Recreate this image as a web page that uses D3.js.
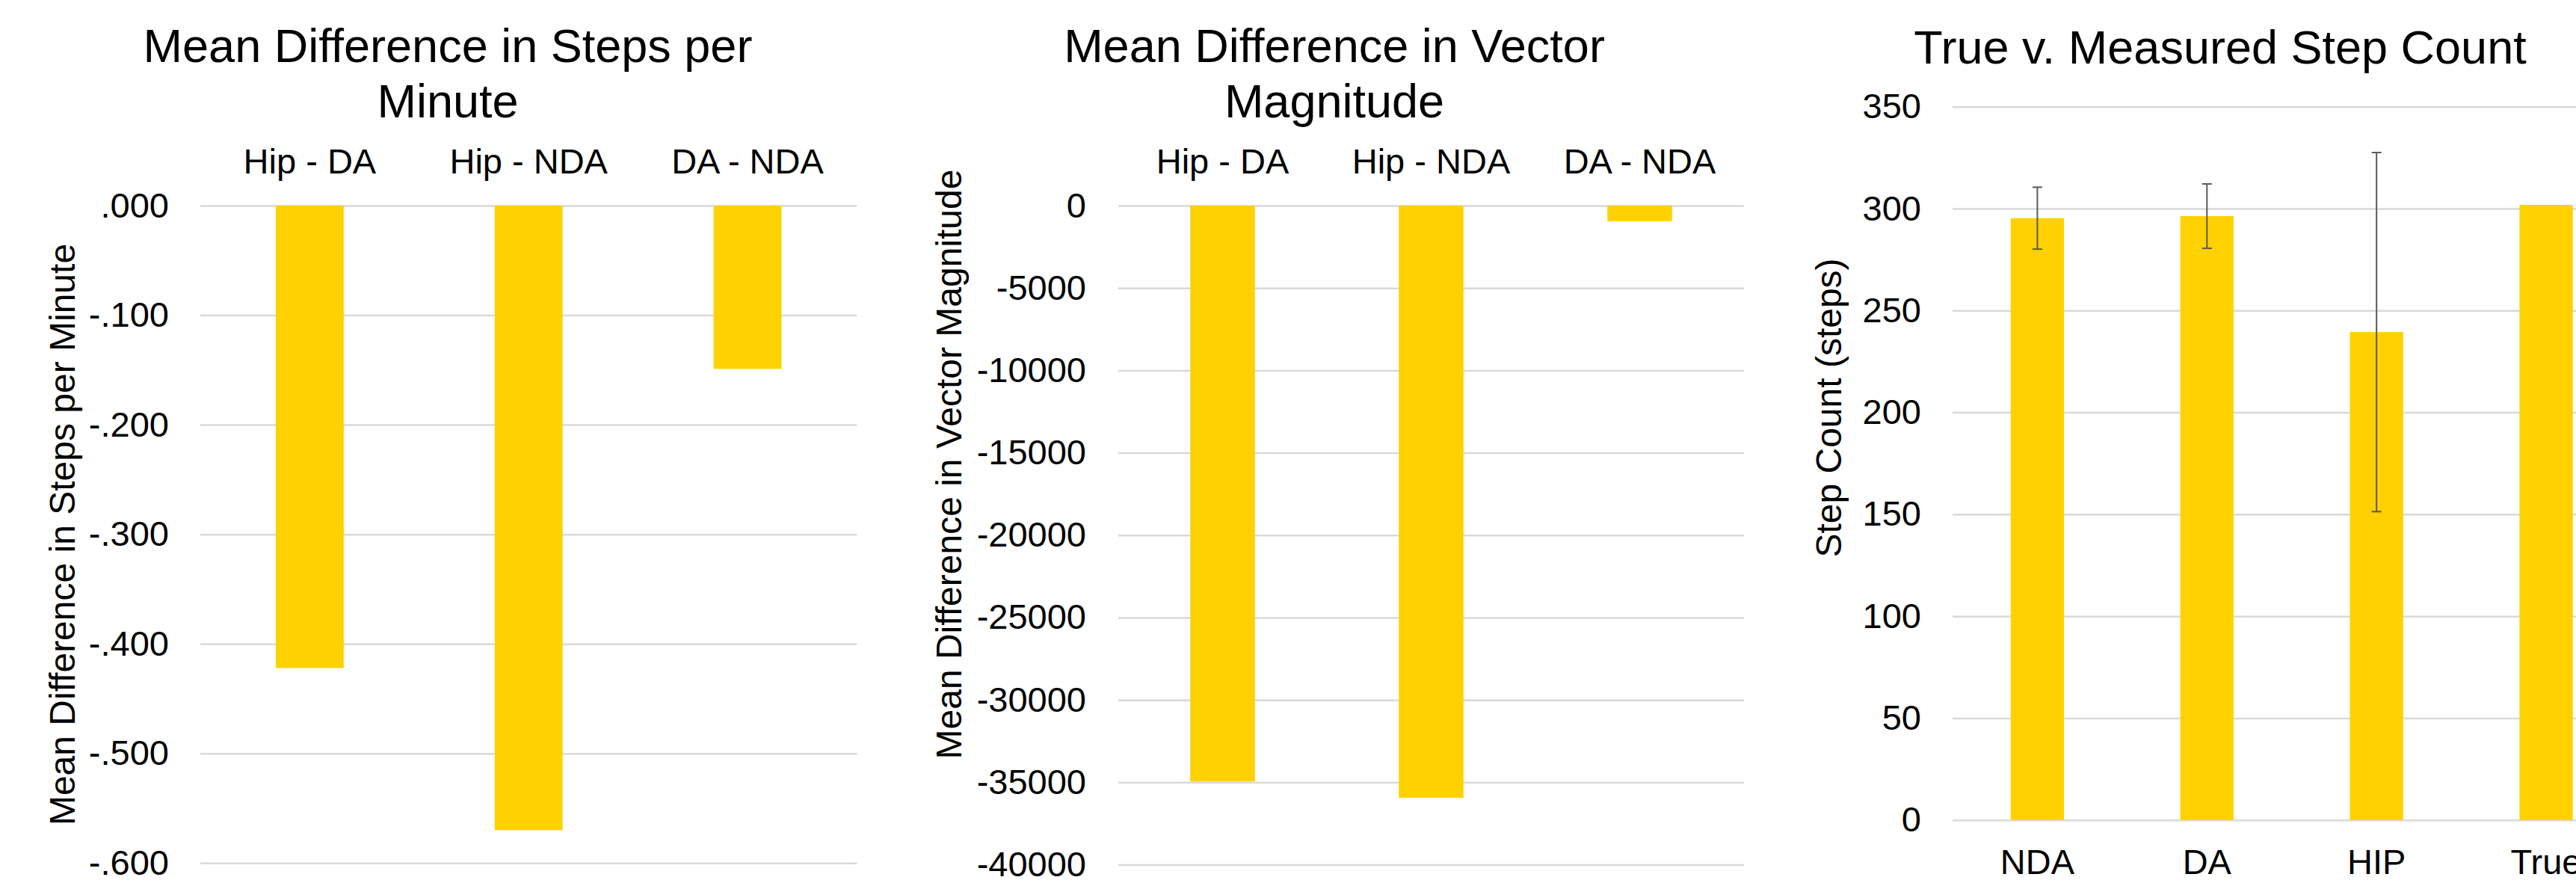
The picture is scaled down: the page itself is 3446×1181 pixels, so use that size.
<!DOCTYPE html>
<html>
<head>
<meta charset="utf-8">
<script src="https://cdn.jsdelivr.net/npm/d3@7/dist/d3.min.js"></script>
<style>
  html, body { margin: 0; padding: 0; background: #ffffff; }
  svg { display: block; font-family: "Liberation Sans", Arial, sans-serif; }
</style>
</head>
<body>
<svg id="chart" width="3446" height="1181"></svg>
<script>
// ---------- data ----------
const diffCategories = ["Hip - DA", "Hip - NDA", "DA - NDA"];
const stepsPerMinuteDiff = [-0.422, -0.570, -0.149];
const vectorMagnitudeDiff = [-34950, -35940, -950];

const stepCategories = ["NDA", "DA", "HIP", "True"];
const stepCountMeans = [295.3, 296.3, 239.4, 301.8];
const stepCountErrors = [15.2, 15.8, 88.1, null];

const spmTicks = [0, -0.1, -0.2, -0.3, -0.4, -0.5, -0.6];
const vmTicks = [0, -5000, -10000, -15000, -20000, -25000, -30000, -35000, -40000];
const scTicks = [0, 50, 100, 150, 200, 250, 300, 350];

const titles = [
  ["Mean Difference in Steps per", "Minute"],
  ["Mean Difference in Vector", "Magnitude"],
  ["True v. Measured Step Count"]
];
const yTitles = [
  "Mean Difference in Steps per Minute",
  "Mean Difference in Vector Magnitude",
  "Step Count (steps)"
];

// ---------- style ----------
const BAR = "#FFD100";
const GRID = "#d9d9d9";
const ERR = "#595959";
const FS_TITLE = 63, FS_TICK = 47, FS_AXT = 48;

const svg = d3.select("#chart");
svg.append("rect").attr("width", 3446).attr("height", 1181).attr("fill", "#fff");

function styleAxis(g) {
  g.select(".domain").remove();
  g.attr("font-family", null).attr("font-size", null);
  g.selectAll("text").attr("font-size", FS_TICK).attr("fill", "#000")
    .style("font-family", '"Liberation Sans", Arial, sans-serif');
}

function drawTitle(lines, cx, baselines) {
  lines.forEach((t, i) => {
    svg.append("text").attr("x", cx).attr("y", baselines[i])
      .attr("text-anchor", "middle").attr("font-size", FS_TITLE).attr("fill", "#000")
      .text(t);
  });
}
function drawYTitle(t, x, cy) {
  svg.append("text").attr("transform", `translate(${x},${cy}) rotate(-90)`)
    .attr("text-anchor", "middle").attr("font-size", FS_AXT).attr("fill", "#000")
    .text(t);
}

// ---------- chart 1 ----------
{
  const x = d3.scaleBand().domain(diffCategories).range([268, 1146.4]).paddingInner(0.69).paddingOuter(0.345);
  const y = d3.scaleLinear().domain([0, -0.6]).range([275, 1154.3]);
  const W = 1146.4 - 268;
  const fmt = v => v === 0 ? ".000" : d3.format(".3f")(v).replace("0.", ".").replace("−", "-");
  svg.append("g").attr("transform", "translate(268,0)")
    .call(d3.axisLeft(y).tickValues(spmTicks).tickSize(-W).tickPadding(42).tickFormat(fmt))
    .call(styleAxis)
    .call(g => g.selectAll("line").attr("stroke", GRID).attr("stroke-width", 2.5));
  svg.append("g").selectAll("rect").data(stepsPerMinuteDiff).join("rect")
    .attr("x", (d, i) => x(diffCategories[i])).attr("width", x.bandwidth())
    .attr("y", y(0)).attr("height", d => y(d) - y(0)).attr("fill", BAR);
  svg.append("g").attr("transform", "translate(0,275)")
    .call(d3.axisTop(x).tickSize(0).tickPadding(43)).call(styleAxis);
  drawTitle(titles[0], 599, [83.3, 156.7]);
  drawYTitle(yTitles[0], 99.5, 715);
}

// ---------- chart 2 ----------
{
  const x = d3.scaleBand().domain(diffCategories).range([1496, 2333]).paddingInner(0.69).paddingOuter(0.345);
  const y = d3.scaleLinear().domain([0, -40000]).range([275, 1156.5]);
  const W = 2333 - 1496;
  svg.append("g").attr("transform", "translate(1496,0)")
    .call(d3.axisLeft(y).tickValues(vmTicks).tickSize(-W).tickPadding(43).tickFormat(d => String(d)))
    .call(styleAxis)
    .call(g => g.selectAll("line").attr("stroke", GRID).attr("stroke-width", 2.5));
  svg.append("g").selectAll("rect").data(vectorMagnitudeDiff).join("rect")
    .attr("x", (d, i) => x(diffCategories[i])).attr("width", x.bandwidth())
    .attr("y", y(0)).attr("height", d => y(d) - y(0)).attr("fill", BAR);
  svg.append("g").attr("transform", "translate(0,275)")
    .call(d3.axisTop(x).tickSize(0).tickPadding(43)).call(styleAxis);
  drawTitle(titles[1], 1785, [83.3, 156.7]);
  drawYTitle(yTitles[1], 1286, 621);
}

// ---------- chart 3 ----------
{
  const x = d3.scaleBand().domain(stepCategories).range([2612, 3519.5]).paddingInner(0.686).paddingOuter(0.343);
  const y = d3.scaleLinear().domain([0, 350]).range([1096.7, 142.7]);
  const W = 3446 - 2612;
  svg.append("g").attr("transform", "translate(2612,0)")
    .call(d3.axisLeft(y).tickValues(scTicks).tickSize(-W).tickPadding(42).tickFormat(d => String(d)))
    .call(styleAxis)
    .call(g => g.selectAll("line").attr("stroke", GRID).attr("stroke-width", 2.5));
  svg.append("g").selectAll("rect").data(stepCountMeans).join("rect")
    .attr("x", (d, i) => x(stepCategories[i])).attr("width", x.bandwidth())
    .attr("y", d => y(d)).attr("height", d => y(0) - y(d)).attr("fill", BAR);
  // error bars
  const eg = svg.append("g").attr("stroke", ERR).attr("stroke-width", 2).attr("fill", "none");
  stepCountMeans.forEach((m, i) => {
    const e = stepCountErrors[i];
    if (e == null) return;
    const cx = x(stepCategories[i]) + x.bandwidth() / 2;
    eg.append("line").attr("x1", cx).attr("x2", cx).attr("y1", y(m + e)).attr("y2", y(m - e));
    [m + e, m - e].forEach(v => {
      eg.append("line").attr("x1", cx - 6.5).attr("x2", cx + 6.5).attr("y1", y(v)).attr("y2", y(v));
    });
  });
  svg.append("g").attr("transform", "translate(0,1096.7)")
    .call(d3.axisBottom(x).tickSize(0).tickPadding(39)).call(styleAxis);
  drawTitle(titles[2], 2970, [85]);
  drawYTitle(yTitles[2], 2463, 545.5);
}
</script>
</body>
</html>
